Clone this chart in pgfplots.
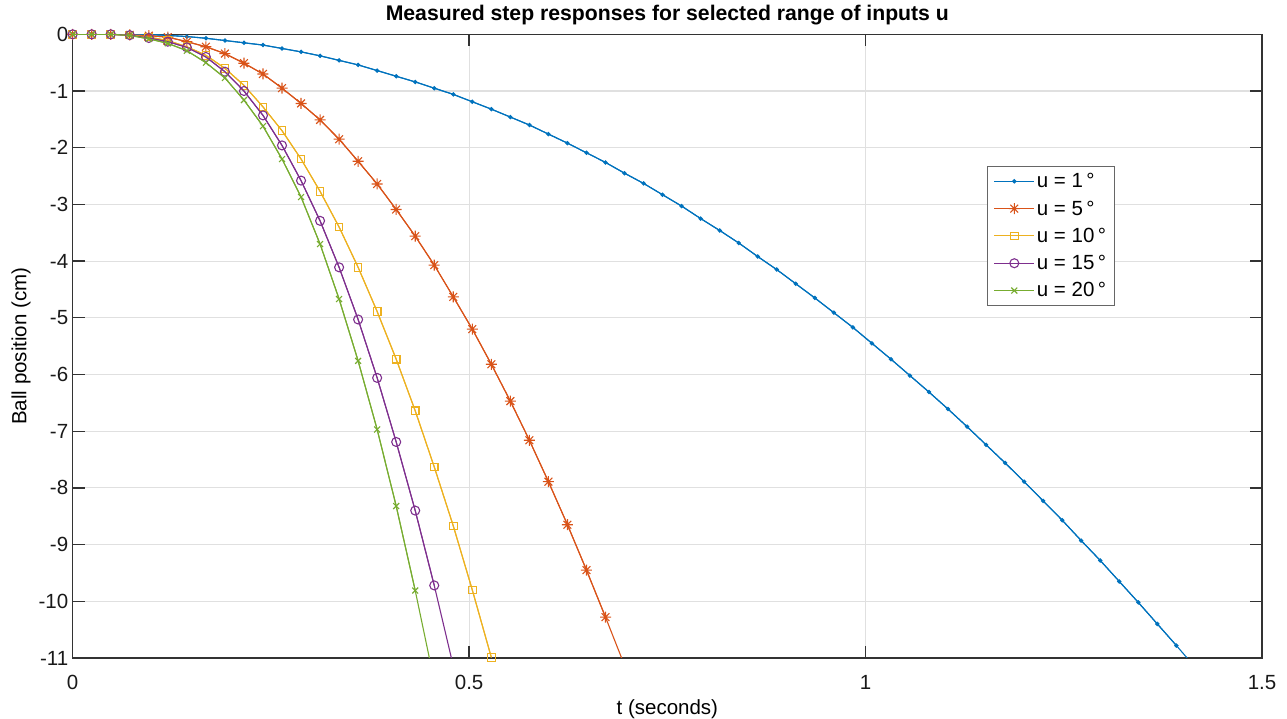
\documentclass[border=0pt]{standalone}
\usepackage{pgfplots}
\usepackage{pgfplotstable}
\pgfplotsset{compat=1.18}
\usepackage{fontspec}
\setmainfont{Liberation Sans}

\definecolor{c1}{rgb}{0,0.447,0.741}
\definecolor{c2}{rgb}{0.85,0.325,0.098}
\definecolor{c3}{rgb}{0.929,0.694,0.125}
\definecolor{c4}{rgb}{0.494,0.184,0.556}
\definecolor{c5}{rgb}{0.466,0.674,0.188}

\pgfdeclareplotmark{mstar}{%
  \pgfpathmoveto{\pgfqpoint{-\pgfplotmarksize}{0pt}}\pgfpathlineto{\pgfqpoint{\pgfplotmarksize}{0pt}}%
  \pgfpathmoveto{\pgfqpoint{0pt}{-\pgfplotmarksize}}\pgfpathlineto{\pgfqpoint{0pt}{\pgfplotmarksize}}%
  \pgfpathmoveto{\pgfqpoint{-0.707\pgfplotmarksize}{-0.707\pgfplotmarksize}}\pgfpathlineto{\pgfqpoint{0.707\pgfplotmarksize}{0.707\pgfplotmarksize}}%
  \pgfpathmoveto{\pgfqpoint{-0.707\pgfplotmarksize}{0.707\pgfplotmarksize}}\pgfpathlineto{\pgfqpoint{0.707\pgfplotmarksize}{-0.707\pgfplotmarksize}}%
  \pgfusepathqstroke}

% u = 1 deg
\pgfplotstableread{
t y
0.000 0
0.024 0
0.048 0
0.072 0
0.096 -0.005
0.120 -0.02
0.144 -0.04
0.168 -0.07
0.192 -0.11
0.216 -0.15
0.240 -0.19
0.264 -0.25
0.288 -0.31
0.312 -0.38
0.336 -0.46
0.360 -0.54
0.384 -0.64
0.408 -0.74
0.432 -0.84
0.456 -0.95
0.480 -1.06
0.504 -1.19
0.528 -1.32
0.552 -1.46
0.576 -1.60
0.600 -1.76
0.624 -1.92
0.648 -2.09
0.672 -2.26
0.696 -2.45
0.720 -2.63
0.744 -2.83
0.768 -3.03
0.792 -3.25
0.816 -3.46
0.840 -3.68
0.864 -3.92
0.888 -4.15
0.912 -4.40
0.936 -4.65
0.960 -4.91
0.984 -5.17
1.008 -5.45
1.032 -5.73
1.056 -6.02
1.080 -6.31
1.104 -6.61
1.128 -6.92
1.152 -7.24
1.176 -7.56
1.200 -7.89
1.224 -8.23
1.248 -8.57
1.272 -8.93
1.296 -9.28
1.320 -9.65
1.344 -10.02
1.368 -10.40
1.392 -10.78
1.416 -11.17
}\dataA
% u = 5 deg
\pgfplotstableread{
t y
0.000 0
0.024 0
0.048 0
0.072 -0.01
0.096 -0.025
0.120 -0.05
0.144 -0.13
0.168 -0.22
0.192 -0.34
0.216 -0.51
0.240 -0.70
0.264 -0.95
0.288 -1.22
0.312 -1.51
0.336 -1.85
0.360 -2.24
0.384 -2.64
0.408 -3.09
0.432 -3.56
0.456 -4.07
0.480 -4.63
0.504 -5.20
0.528 -5.82
0.552 -6.47
0.576 -7.16
0.600 -7.89
0.624 -8.65
0.648 -9.45
0.672 -10.28
0.696 -11.13
}\dataB
% u = 10 deg
\pgfplotstableread{
t y
0.000 0
0.024 0
0.048 0
0.072 -0.01
0.096 -0.05
0.120 -0.11
0.144 -0.22
0.168 -0.37
0.192 -0.60
0.216 -0.90
0.240 -1.28
0.264 -1.70
0.288 -2.20
0.312 -2.77
0.336 -3.40
0.360 -4.11
0.384 -4.89
0.408 -5.73
0.432 -6.64
0.456 -7.63
0.480 -8.67
0.504 -9.80
0.528 -10.99
}\dataC
% u = 15 deg
\pgfplotstableread{
t y
0.000 0
0.024 0
0.048 0
0.072 -0.015
0.096 -0.065
0.120 -0.13
0.144 -0.23
0.168 -0.40
0.192 -0.66
0.216 -1.00
0.240 -1.43
0.264 -1.96
0.288 -2.58
0.312 -3.29
0.336 -4.11
0.360 -5.03
0.384 -6.06
0.408 -7.19
0.432 -8.40
0.456 -9.72
0.480 -11.14
}\dataD
% u = 20 deg
\pgfplotstableread{
t y
0.000 0
0.024 0
0.048 0
0.072 -0.02
0.096 -0.08
0.120 -0.16
0.144 -0.29
0.168 -0.50
0.192 -0.77
0.216 -1.16
0.240 -1.62
0.264 -2.20
0.288 -2.87
0.312 -3.70
0.336 -4.67
0.360 -5.76
0.384 -6.97
0.408 -8.32
0.432 -9.81
0.456 -11.41
}\dataE

\begin{document}
\begin{tikzpicture}
\useasboundingbox (0,0) rectangle (1287pt,719pt);
\begin{axis}[
  at={(72.7pt,61pt)}, anchor=south west,
  scale only axis, width=1189.3pt, height=623.7pt,
  xmin=0, xmax=1.5, ymin=-11, ymax=0,
  xtick={0,0.5,1,1.5}, ytick={-11,-10,...,0},
  grid=major,
  major grid style={color=black!12, line width=1.1pt},
  axis line style={color=black!80, line width=1.3pt},
  tick style={color=black!80, line width=1.3pt},
  tick align=inside, major tick length=12pt,
  xtick pos=both, ytick pos=both,
  ticklabel style={font=\fontsize{20.5}{24}\selectfont, text=black!90},
  xticklabel style={yshift=-14pt},
  yticklabel style={xshift=-1pt},
  /pgf/number format/assume math mode=true,
  clip mode=individual,
  title={\bfseries Measured step responses for selected range of inputs u},
  title style={at={(0.5,1)}, anchor=base, yshift=8pt, font=\fontsize{21.2}{25}\selectfont},
  xlabel={t (seconds)},
  xlabel style={at={(axis description cs:0.5,-0.0815)}, anchor=center, font=\fontsize{20.5}{24}\selectfont},
  ylabel={Ball position (cm)},
  ylabel style={at={(axis description cs:-0.0435,0.5)}, anchor=center, rotate=0, font=\fontsize{20.5}{24}\selectfont},
  legend style={at={(0.769,0.789)}, anchor=north west, font=\fontsize{20.5}{23}\selectfont,
    draw=black!60, line width=1pt, inner xsep=6pt, inner ysep=5pt, row sep=7.5pt,
    cells={anchor=west}},
  legend image code/.code={\draw[mark repeat=2,mark phase=2] plot coordinates {(0pt,0pt)(20pt,0pt)(40pt,0pt)};},
  every axis plot/.append style={line width=1.1pt},
]
% lines to the edge (no marks)
\addplot[c1, mark=none, forget plot] table {\dataA};
\addplot[c2, mark=none, forget plot] table {\dataB};
\addplot[c3, mark=none, forget plot] table {\dataC};
\addplot[c4, mark=none, forget plot] table {\dataD};
\addplot[c5, mark=none, forget plot] table {\dataE};
% lines with marks inside range
\addplot[color=c1, mark=*, mark size=1.6pt, mark options={fill=c1, draw=c1}, restrict y to domain=-11.02:0.5] table {\dataA};
\addplot[color=c2, mark=mstar, mark size=5.5pt, mark options={draw=c2}, restrict y to domain=-11.02:0.5] table {\dataB};
\addplot[color=c3, mark=square, mark size=3.8pt, mark options={draw=c3}, restrict y to domain=-11.02:0.5] table {\dataC};
\addplot[color=c4, mark=o, mark size=4.5pt, mark options={draw=c4}, restrict y to domain=-11.02:0.5] table {\dataD};
\addplot[color=c5, mark=x, mark size=4.2pt, mark options={draw=c5}, restrict y to domain=-11.02:0.5] table {\dataE};
\legend{u = 1\,°, u = 5\,°, u = 10\,°, u = 15\,°, u = 20\,°}
\end{axis}
\end{tikzpicture}
\end{document}
